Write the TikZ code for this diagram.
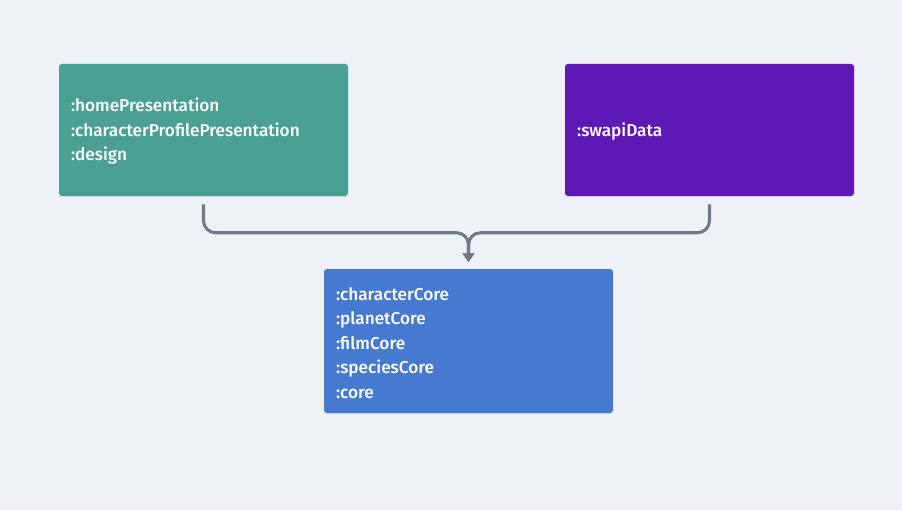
\documentclass[tikz,border=0pt]{standalone}
\usepackage{fontspec}
\setmainfont{Fira Sans}[UprightFont=* Medium]
\usetikzlibrary{arrows.meta,calc,shadows}
\definecolor{bg}{HTML}{EEF2F7}
\definecolor{cgreen}{HTML}{4AA092}
\definecolor{cpurple}{HTML}{5E18B6}
\definecolor{cblue}{HTML}{467AD0}
\definecolor{cline}{HTML}{6F7A88}
\tikzset{
  modbox/.style={rectangle, rounded corners=2.25pt, minimum width=216.75pt, text width=198.75pt, align=left, inner xsep=9pt, inner ysep=0pt, text=white, font=\fontsize{12.9pt}{18.4pt}\selectfont, execute at begin node={\rule{0pt}{12.5pt}}, drop shadow={shadow xshift=0pt, shadow yshift=-1pt, opacity=0.12}},
  conn/.style={draw=cline, line width=2.3pt, rounded corners=9pt, -{Triangle[width=8.5pt,length=6.5pt]}}
}
\begin{document}
\begin{tikzpicture}[x=0.75pt,y=-0.75pt]
\fill[bg] (0,0) rectangle (902,510);
\useasboundingbox (0,0) rectangle (902,510);
\node[modbox, fill=cgreen, minimum height=99pt] (home) at (203.5,130) {:homePresentation\\:characterProfilePresentation\\:design};
\node[modbox, fill=cpurple, minimum height=99pt] (swapi) at (709.5,130) {:swapiData};
\node[modbox, fill=cblue, minimum height=108pt] (core) at (468.5,341) {:characterCore\\:planetCore\\:filmCore\\:speciesCore\\:core};
\coordinate (j) at ([yshift=27pt]core.north);
\draw[conn] ([yshift=-6pt]home.south) |- (j) -- ([yshift=5pt]core.north);
\draw[conn] ([yshift=-6pt]swapi.south) |- (j) -- ([yshift=5pt]core.north);
\end{tikzpicture}
\end{document}
